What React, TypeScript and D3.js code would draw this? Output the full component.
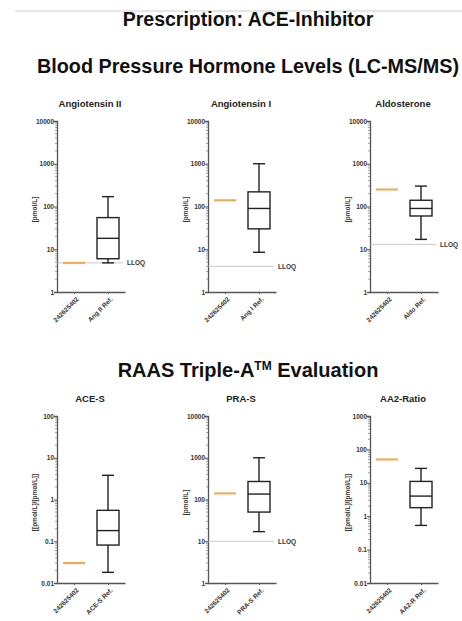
import React, { useEffect, useRef } from 'react'
import * as d3 from 'd3'

// panel content
const panelTitles = ['Angiotensin II', 'Angiotensin I', 'Aldosterone', 'ACE-S', 'PRA-S', 'AA2-Ratio']
const patientId = '242625402'
const refLabels = ['Ang II Ref.', 'Ang I Ref.', 'Aldo Ref.', 'ACE-S Ref.', 'PRA-S Ref.', 'AA2-R Ref.']
const unitLabels = ['[pmol/L]', '[pmol/L]', '[pmol/L]', '[[pmol/L]/[pmol/L]]', '[pmol/L]', '[[pmol/L]/[pmol/L]]']
const yMin = [1, 1, 1, 0.01, 1, 0.01]
const yMax = [10000, 10000, 10000, 100, 10000, 1000]

// patient value (orange bar) and reference box plots
const patientValues = [4.8, 140, 250, 0.03, 140, 50]
const refMin = [4.8, 8.5, 17, 0.018, 17, 0.53]
const refQ1 = [6, 30, 60, 0.081, 50, 1.8]
const refMedian = [18, 90, 90, 0.18, 135, 4]
const refQ3 = [55, 220, 140, 0.55, 270, 11]
const refMax = [170, 1000, 300, 3.8, 1000, 27]
const lloq = [4.8, 4, 13, null, 10, null]

function App() {
  const svgRef = useRef<SVGSVGElement>(null)
  const W = 462
  const H = 621

  useEffect(() => {
    document.body.style.margin = '0'
    const svg = d3.select(svgRef.current)
    svg.selectAll('*').remove()
    const font = 'Liberation Sans, Arial, sans-serif'

    svg.append('line')
      .attr('x1', 15).attr('x2', W).attr('y1', 11).attr('y2', 11)
      .attr('stroke', '#e6e6e6').attr('stroke-width', 2)

    const head = (txt: string, y: number, size: number) =>
      svg.append('text').attr('x', 248).attr('y', y).attr('text-anchor', 'middle')
        .attr('font-family', font).attr('font-weight', 'bold').attr('font-size', size)
        .attr('fill', '#111').text(txt)

    head('Prescription: ACE-Inhibitor', 26, 19.5)
    head('Blood Pressure Hormone Levels (LC-MS/MS)', 73, 19.8)
    const raas = head('RAAS Triple-A', 377, 20)
    raas.append('tspan').attr('font-size', 12).attr('dy', -7).text('TM')
    raas.append('tspan').attr('dy', 7).text(' Evaluation')

    const colX = [57, 208, 370]
    const rows = [[121, 292], [416, 583]]
    const plotW = 68
    const small = 6.5

    panelTitles.forEach((title, i) => {
      const ax = colX[i % 3]
      const [top, bottom] = rows[Math.floor(i / 3)]
      const g = svg.append('g')

      const y = d3.scaleLog().domain([yMin[i], yMax[i]]).range([bottom, top])
      const x = d3.scalePoint<string>().domain([patientId, refLabels[i]]).range([ax, ax + plotW]).padding(0.5)

      g.append('text').attr('x', ax + plotW / 2 - 1).attr('y', top - 14).attr('text-anchor', 'middle')
        .attr('font-family', font).attr('font-weight', 'bold').attr('font-size', 9.5)
        .attr('fill', '#222').text(title)

      // y axis with minor ticks
      const major = d3.range(Math.round(Math.log10(yMin[i])), Math.round(Math.log10(yMax[i])) + 1).map(e => Math.pow(10, e))
      const minor: number[] = []
      major.slice(0, -1).forEach(m => { for (let k = 2; k < 10; k++) minor.push(m * k) })
      const yAxis = g.append('g').attr('transform', `translate(${ax},0)`)
        .call(d3.axisLeft(y).tickValues(major).tickSize(3).tickFormat(d => String(+(+d).toPrecision(3))))
      yAxis.select('.domain').attr('stroke', '#555').attr('stroke-width', 1.3)
      yAxis.selectAll('.tick line').attr('stroke', '#555')
      yAxis.selectAll('.tick text').attr('font-family', font).attr('font-size', small)
        .attr('font-weight', 'bold').attr('fill', '#333').attr('x', -3)
      yAxis.selectAll('.minor').data(minor).enter().append('line')
        .attr('x1', -2).attr('x2', 0).attr('y1', d => y(d)).attr('y2', d => y(d))
        .attr('stroke', '#777').attr('stroke-width', 0.7)

      g.append('text')
        .attr('transform', `translate(${ax - 20},${(top + bottom) / 2 + 3}) rotate(-90)`)
        .attr('text-anchor', 'middle').attr('font-family', font).attr('font-weight', 'bold')
        .attr('font-size', small).attr('fill', '#333').text(unitLabels[i])

      // x axis
      const xAxis = g.append('g').attr('transform', `translate(0,${bottom})`)
        .call(d3.axisBottom(x).tickSize(2).tickSizeOuter(0))
      xAxis.select('.domain').attr('stroke', '#555').attr('stroke-width', 1.3)
      xAxis.selectAll('.tick line').attr('stroke', '#555')
      xAxis.selectAll('.tick text').attr('font-family', font).attr('font-weight', 'bold')
        .attr('font-size', small).attr('fill', '#333')
        .attr('text-anchor', 'end').attr('transform', 'translate(3,6) rotate(-45)').attr('dy', '0.35em').attr('y', 0)

      // LLOQ line
      const ll = lloq[i]
      if (ll != null) {
        g.append('line').attr('x1', ax).attr('x2', ax + plotW - 2).attr('y1', y(ll)).attr('y2', y(ll))
          .attr('stroke', '#bbb').attr('stroke-width', 0.8)
        g.append('text').attr('x', ax + plotW + 2).attr('y', y(ll)).attr('dy', '0.35em')
          .attr('font-family', font).attr('font-weight', 'bold').attr('font-size', small)
          .attr('fill', '#333').text('LLOQ')
      }

      // patient value
      const px = x(patientId)!
      g.append('line').attr('x1', px - 11).attr('x2', px + 11)
        .attr('y1', y(patientValues[i])).attr('y2', y(patientValues[i]))
        .attr('stroke', '#f5a54a').attr('stroke-width', 2)

      // reference box plot
      const rx = x(refLabels[i])!
      const bw = 22
      const st = '#222'
      g.append('line').attr('x1', rx).attr('x2', rx).attr('y1', y(refMax[i])).attr('y2', y(refQ3[i]))
        .attr('stroke', st).attr('stroke-width', 1.4)
      g.append('line').attr('x1', rx).attr('x2', rx).attr('y1', y(refQ1[i])).attr('y2', y(refMin[i]))
        .attr('stroke', st).attr('stroke-width', 1.4)
      ;[refMax[i], refMin[i]].forEach(v => {
        g.append('line').attr('x1', rx - 6).attr('x2', rx + 6).attr('y1', y(v)).attr('y2', y(v))
          .attr('stroke', st).attr('stroke-width', 1.4)
      })
      g.append('rect').attr('x', rx - bw / 2).attr('width', bw)
        .attr('y', y(refQ3[i])).attr('height', y(refQ1[i]) - y(refQ3[i]))
        .attr('fill', 'none').attr('stroke', st).attr('stroke-width', 1.4)
      g.append('line').attr('x1', rx - bw / 2).attr('x2', rx + bw / 2)
        .attr('y1', y(refMedian[i])).attr('y2', y(refMedian[i]))
        .attr('stroke', st).attr('stroke-width', 1.4)
    })
  }, [])

  return <svg ref={svgRef} width={W} height={H} style={{ display: 'block', background: '#fff' }}></svg>
}

export default App
